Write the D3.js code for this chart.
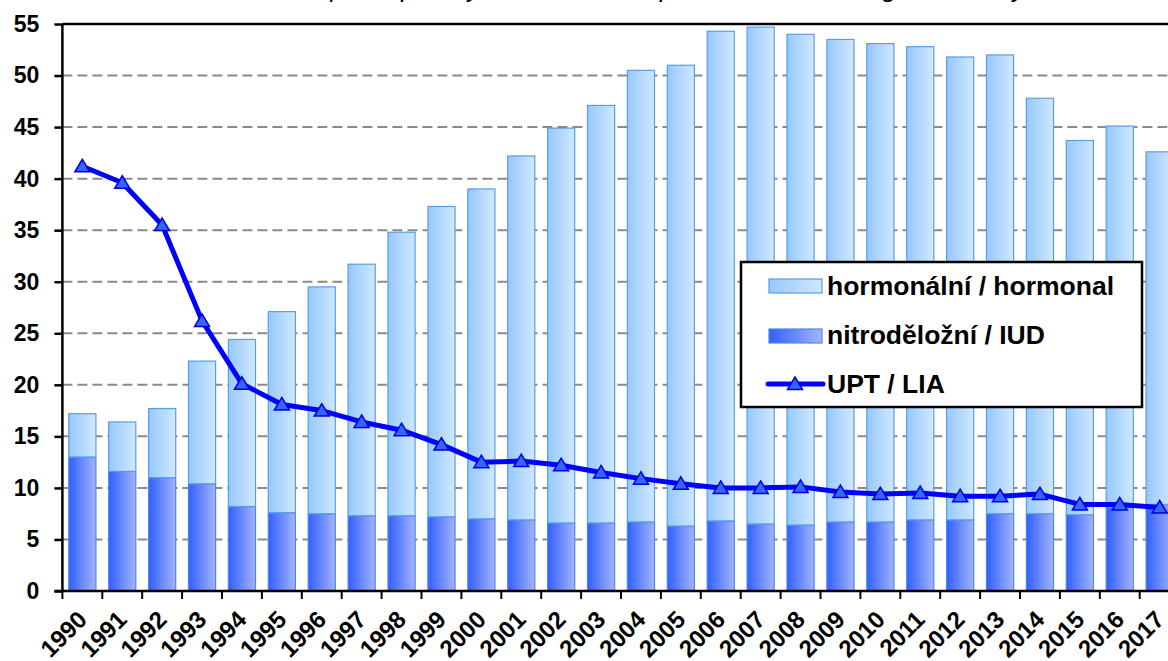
<!DOCTYPE html>
<html>
<head>
<meta charset="utf-8">
<script src="https://cdn.jsdelivr.net/npm/d3@7"></script>
<style>
    body { margin: 0; background: #fff; }
    svg { display: block; font-family: Arial, "Liberation Sans", sans-serif; }
</style>
</head>
<body>
<div id="chart"></div>
<script>
// categories
const years = ["1990", "1991", "1992", "1993", "1994", "1995", "1996", "1997", "1998", "1999",
    "2000", "2001", "2002", "2003", "2004", "2005", "2006", "2007", "2008", "2009",
    "2010", "2011", "2012", "2013", "2014", "2015", "2016", "2017"];

// nitroděložní / IUD (bottom segment)
const iudValues = [13.0, 11.6, 11.0, 10.4, 8.2, 7.6, 7.5, 7.3, 7.3, 7.2,
    7.0, 6.9, 6.6, 6.6, 6.7, 6.3, 6.8, 6.5, 6.4, 6.7,
    6.7, 6.9, 6.9, 7.5, 7.5, 7.4, 8.1, 8.4];

// hormonální / hormonal (stacked on top)
const hormonalValues = [4.2, 4.8, 6.7, 11.9, 16.2, 19.5, 22.0, 24.4, 27.5, 30.1,
    32.0, 35.3, 38.3, 40.5, 43.8, 44.7, 47.5, 48.2, 47.6, 46.8,
    46.4, 45.9, 44.9, 44.5, 40.3, 36.3, 37.0, 34.2];

// UPT / LIA (line)
const abortionValues = [41.2, 39.6, 35.5, 26.2, 20.1, 18.1, 17.5, 16.4, 15.6, 14.2,
    12.5, 12.6, 12.2, 11.5, 10.9, 10.4, 10.0, 10.0, 10.1, 9.6,
    9.4, 9.5, 9.2, 9.2, 9.4, 8.4, 8.4, 8.1];

const yTicks = [0, 5, 10, 15, 20, 25, 30, 35, 40, 45, 50, 55];
const legendLabels = ["hormonální / hormonal", "nitroděložní / IUD", "UPT / LIA"];
const titleText = "Užívání antikoncepce a potraty na 1 000 žen / per 1 000 women aged 15–49 years";

class ContraceptionChart {

    constructor(parentElement) {
        this.parentElement = parentElement;
        this.initVis();
    }

    initVis() {
        let vis = this;

        vis.width = 1168;
        vis.height = 661;

        vis.svg = d3.select("#" + vis.parentElement).append("svg")
            .attr("width", vis.width)
            .attr("height", vis.height);

        // gradients for the bars
        let defs = vis.svg.append("defs");
        let addGradient = (id, from, to) => {
            let g = defs.append("linearGradient")
                .attr("id", id)
                .attr("x1", "0").attr("x2", "1")
                .attr("y1", "0").attr("y2", "0");
            g.append("stop").attr("offset", "0%").attr("stop-color", from);
            g.append("stop").attr("offset", "100%").attr("stop-color", to);
        };
        addGradient("gradIud", "#2f5fff", "#a3b4ff");
        addGradient("gradHorm", "#96c8ff", "#d0e8ff");

        vis.x = d3.scaleBand()
            .domain(years)
            .range([62.4, 62.4 + 39.9 * years.length])
            .paddingInner(0.32)
            .paddingOuter(0.16);

        vis.y = d3.scaleLinear()
            .domain([0, 55])
            .range([591, 24]);

        // title, mostly cut off at the top (as in the source image)
        vis.svg.append("text")
            .attr("x", 600)
            .attr("y", -3)
            .attr("text-anchor", "middle")
            .attr("font-style", "italic")
            .attr("font-size", 26)
            .text(titleText);

        // dashed grid
        vis.svg.append("g")
            .selectAll("line")
            .data(yTicks.filter(d => d > 0 && d < 55))
            .enter().append("line")
            .attr("x1", vis.x.range()[0])
            .attr("x2", vis.width)
            .attr("y1", d => vis.y(d))
            .attr("y2", d => vis.y(d))
            .attr("stroke", "#8a8a8a")
            .attr("stroke-width", 2)
            .attr("stroke-dasharray", "10,5");

        vis.updateVis();
    }

    updateVis() {
        let vis = this;

        let table = years.map((year, i) => ({
            year: year,
            iud: iudValues[i],
            hormonal: hormonalValues[i],
            upt: abortionValues[i]
        }));

        let stack = d3.stack().keys(["iud", "hormonal"]);
        let stacked = stack(table);
        let fills = {iud: "url(#gradIud)", hormonal: "url(#gradHorm)"};
        let strokes = {iud: "#4a88e6", hormonal: "#5a9de6"};

        vis.barGraph = vis.svg.append("g");
        vis.barGraph.selectAll("g")
            .data(stacked)
            .enter().append("g")
            .attr("fill", d => fills[d.key])
            .attr("stroke", d => strokes[d.key])
            .attr("stroke-width", 1.2)
            .selectAll("rect")
            .data(d => d)
            .enter().append("rect")
            .attr("x", d => vis.x(d.data.year))
            .attr("y", d => vis.y(d[1]))
            .attr("width", vis.x.bandwidth())
            .attr("height", d => vis.y(d[0]) - vis.y(d[1]));

        // axes
        vis.yAxis = d3.axisLeft(vis.y)
            .tickValues(yTicks)
            .tickSize(8)
            .tickSizeOuter(0)
            .tickPadding(15);

        vis.yGroup = vis.svg.append("g")
            .attr("transform", "translate(" + vis.x.range()[0] + ",0)")
            .call(vis.yAxis);
        vis.yGroup.select(".domain").remove();
        vis.yGroup.selectAll(".tick line")
            .attr("stroke", "#000")
            .attr("stroke-width", 2.5);
        vis.yGroup.selectAll("text")
            .attr("fill", "#000")
            .attr("font-size", 23)
            .attr("font-weight", "bold")
            .attr("font-family", "Arial, 'Liberation Sans', sans-serif");

        let x0 = vis.x.range()[0];
        vis.svg.append("line")
            .attr("x1", x0).attr("x2", x0)
            .attr("y1", vis.y(55)).attr("y2", vis.y(0))
            .attr("stroke", "#000").attr("stroke-width", 2.5);
        vis.svg.append("line")
            .attr("x1", x0).attr("x2", vis.width)
            .attr("y1", vis.y(55)).attr("y2", vis.y(55))
            .attr("stroke", "#000").attr("stroke-width", 2.5);
        vis.svg.append("line")
            .attr("x1", x0 - 8).attr("x2", vis.width)
            .attr("y1", vis.y(0)).attr("y2", vis.y(0))
            .attr("stroke", "#000").attr("stroke-width", 2.5);

        // x ticks sit between the categories
        vis.svg.append("g")
            .selectAll("line")
            .data(d3.range(years.length + 1))
            .enter().append("line")
            .attr("x1", i => x0 + i * vis.x.step())
            .attr("x2", i => x0 + i * vis.x.step())
            .attr("y1", vis.y(0))
            .attr("y2", vis.y(0) + 8)
            .attr("stroke", "#000")
            .attr("stroke-width", 2);

        vis.svg.append("g")
            .selectAll("text")
            .data(years)
            .enter().append("text")
            .attr("transform", d => "translate(" + (vis.x(d) + vis.x.bandwidth() / 2 + 6) + ",621) rotate(-45)")
            .attr("text-anchor", "end")
            .attr("font-size", 24)
            .attr("font-weight", "bold")
            .text(d => d);

        // UPT line
        let cx = d => vis.x(d.year) + vis.x.bandwidth() / 2;
        let line = d3.line()
            .x(cx)
            .y(d => vis.y(d.upt));

        vis.svg.append("path")
            .datum(table)
            .attr("d", line)
            .attr("fill", "none")
            .attr("stroke", "#0000ff")
            .attr("stroke-width", 5)
            .attr("stroke-linejoin", "round");

        let triangle = "M0,-7L7.5,5.5L-7.5,5.5Z";
        vis.svg.append("g")
            .selectAll("path")
            .data(table)
            .enter().append("path")
            .attr("d", triangle)
            .attr("transform", d => "translate(" + cx(d) + "," + vis.y(d.upt) + ")")
            .attr("fill", "#3366ff")
            .attr("stroke", "#0000dd")
            .attr("stroke-width", 1.5);

        // legend
        let legend = vis.svg.append("g");
        legend.append("rect")
            .attr("x", 741).attr("y", 262)
            .attr("width", 401).attr("height", 145)
            .attr("fill", "#fff")
            .attr("stroke", "#000")
            .attr("stroke-width", 2.5);

        legend.append("rect")
            .attr("x", 769).attr("y", 279)
            .attr("width", 53).attr("height", 14)
            .attr("fill", "url(#gradHorm)")
            .attr("stroke", strokes.hormonal).attr("stroke-width", 1.2);
        legend.append("rect")
            .attr("x", 769).attr("y", 329)
            .attr("width", 53).attr("height", 14)
            .attr("fill", "url(#gradIud)")
            .attr("stroke", strokes.iud).attr("stroke-width", 1.2);
        legend.append("line")
            .attr("x1", 768).attr("x2", 823)
            .attr("y1", 384).attr("y2", 384)
            .attr("stroke", "#0000ff").attr("stroke-width", 5)
            .attr("stroke-linecap", "round");
        legend.append("path")
            .attr("d", triangle)
            .attr("transform", "translate(795,384)")
            .attr("fill", "#3366ff")
            .attr("stroke", "#0000dd")
            .attr("stroke-width", 1.5);

        legend.selectAll("text")
            .data(legendLabels)
            .enter().append("text")
            .attr("x", 827)
            .attr("y", (d, i) => 295 + i * 49)
            .attr("font-size", 26.5)
            .attr("font-weight", "bold")
            .text(d => d);
    }
}

new ContraceptionChart("chart");
</script>
</body>
</html>
